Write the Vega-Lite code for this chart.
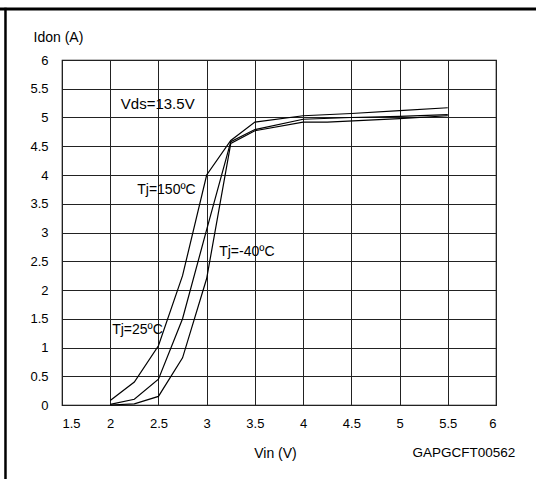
{
  "$schema": "https://vega.github.io/schema/vega-lite/v6.json",
  "width": 434,
  "height": 345,
  "autosize": {"type": "none"},
  "padding": {"left": 62, "top": 60, "right": 40, "bottom": 74},
  "background": "white",
  "config": {
    "view": {"stroke": "#000", "strokeWidth": 1.2},
    "font": "Liberation Sans",
    "axis": {
      "grid": true, "gridColor": "#222", "gridWidth": 1, "gridOpacity": 1,
      "domain": false, "ticks": false, "tickSize": 0,
      "labelFont": "Liberation Sans", "labelFontSize": 13, "labelColor": "#000",
      "titleFont": "Liberation Sans", "titleFontSize": 14, "titleFontWeight": "normal", "titleColor": "#000"
    }
  },
  "datasets": {
    "curves": [
      {"tj": "150", "v": 2.0, "i": 0.08},
      {"tj": "150", "v": 2.25, "i": 0.4},
      {"tj": "150", "v": 2.5, "i": 1.03},
      {"tj": "150", "v": 2.75, "i": 2.25},
      {"tj": "150", "v": 3.0, "i": 4.0},
      {"tj": "150", "v": 3.25, "i": 4.6},
      {"tj": "150", "v": 3.5, "i": 4.92},
      {"tj": "150", "v": 4.0, "i": 5.03},
      {"tj": "150", "v": 4.5, "i": 5.07},
      {"tj": "150", "v": 5.0, "i": 5.12},
      {"tj": "150", "v": 5.5, "i": 5.17},
      {"tj": "25", "v": 2.0, "i": 0.01},
      {"tj": "25", "v": 2.25, "i": 0.1},
      {"tj": "25", "v": 2.5, "i": 0.45},
      {"tj": "25", "v": 2.75, "i": 1.5},
      {"tj": "25", "v": 3.0, "i": 3.05},
      {"tj": "25", "v": 3.25, "i": 4.58},
      {"tj": "25", "v": 3.5, "i": 4.79},
      {"tj": "25", "v": 4.0, "i": 4.97},
      {"tj": "25", "v": 4.5, "i": 5.0},
      {"tj": "25", "v": 5.0, "i": 5.02},
      {"tj": "25", "v": 5.5, "i": 5.05},
      {"tj": "-40", "v": 2.0, "i": 0.0},
      {"tj": "-40", "v": 2.25, "i": 0.02},
      {"tj": "-40", "v": 2.5, "i": 0.15},
      {"tj": "-40", "v": 2.75, "i": 0.82},
      {"tj": "-40", "v": 3.0, "i": 2.2},
      {"tj": "-40", "v": 3.25, "i": 4.55},
      {"tj": "-40", "v": 3.5, "i": 4.77},
      {"tj": "-40", "v": 4.0, "i": 4.92},
      {"tj": "-40", "v": 4.25, "i": 4.92},
      {"tj": "-40", "v": 5.0, "i": 4.98},
      {"tj": "-40", "v": 5.5, "i": 5.03}
    ],
    "labels": [
      {"label": "Tj=150ºC", "v": 2.28, "i": 3.74},
      {"label": "Tj=-40ºC", "v": 3.13, "i": 2.66},
      {"label": "Tj=25ºC", "v": 2.02, "i": 1.3}
    ],
    "cond": [{"label": "Vds=13.5V", "v": 2.11, "i": 5.23}],
    "code": [{"label": "GAPGCFT00562", "v": 6.2, "i": -0.905}],
    "hframe": [{"v": 0.84, "v2": 6.45, "i": 6.887}],
    "vframe": [{"v": 0.914, "i": 6.91, "i2": -1.3}]
  },
  "encoding": {
    "x": {
      "field": "v", "type": "quantitative",
      "scale": {"domain": [1.5, 6], "nice": false, "zero": false},
      "axis": {
        "values": [1.5, 2, 2.5, 3, 3.5, 4, 4.5, 5, 5.5, 6],
        "format": "~g", "labelPadding": 12,
        "title": "Vin (V)", "titleX": 213, "titleY": 52,
        "titleBaseline": "alphabetic", "titleAlign": "center"
      }
    },
    "y": {
      "field": "i", "type": "quantitative",
      "scale": {"domain": [0, 6], "nice": false},
      "axis": {
        "values": [0, 0.5, 1, 1.5, 2, 2.5, 3, 3.5, 4, 4.5, 5, 5.5, 6],
        "format": "~g", "labelPadding": 14,
        "title": "Idon (A)", "titleAngle": 0, "titleX": -29, "titleY": -19,
        "titleAlign": "left", "titleBaseline": "alphabetic"
      }
    }
  },
  "layer": [
    {
      "data": {"name": "curves"},
      "mark": {"type": "line", "color": "#000", "strokeWidth": 1.2},
      "encoding": {
        "detail": {"field": "tj"},
        "order": {"field": "v"}
      }
    },
    {
      "data": {"name": "labels"},
      "mark": {"type": "text", "align": "left", "baseline": "middle", "fontSize": 14, "font": "Liberation Sans", "color": "#000"},
      "encoding": {"text": {"field": "label"}}
    },
    {
      "data": {"name": "cond"},
      "mark": {"type": "text", "align": "left", "baseline": "middle", "fontSize": 15, "font": "Liberation Sans", "color": "#000"},
      "encoding": {"text": {"field": "label"}}
    },
    {
      "data": {"name": "code"},
      "mark": {"type": "text", "align": "right", "baseline": "alphabetic", "fontSize": 13.5, "font": "Liberation Sans", "color": "#000"},
      "encoding": {"text": {"field": "label"}}
    },
    {
      "data": {"name": "hframe"},
      "mark": {"type": "rule", "color": "#000", "strokeWidth": 3},
      "encoding": {"x2": {"field": "v2"}}
    },
    {
      "data": {"name": "vframe"},
      "mark": {"type": "rule", "color": "#000", "strokeWidth": 2.5},
      "encoding": {"y2": {"field": "i2"}}
    }
  ]
}
